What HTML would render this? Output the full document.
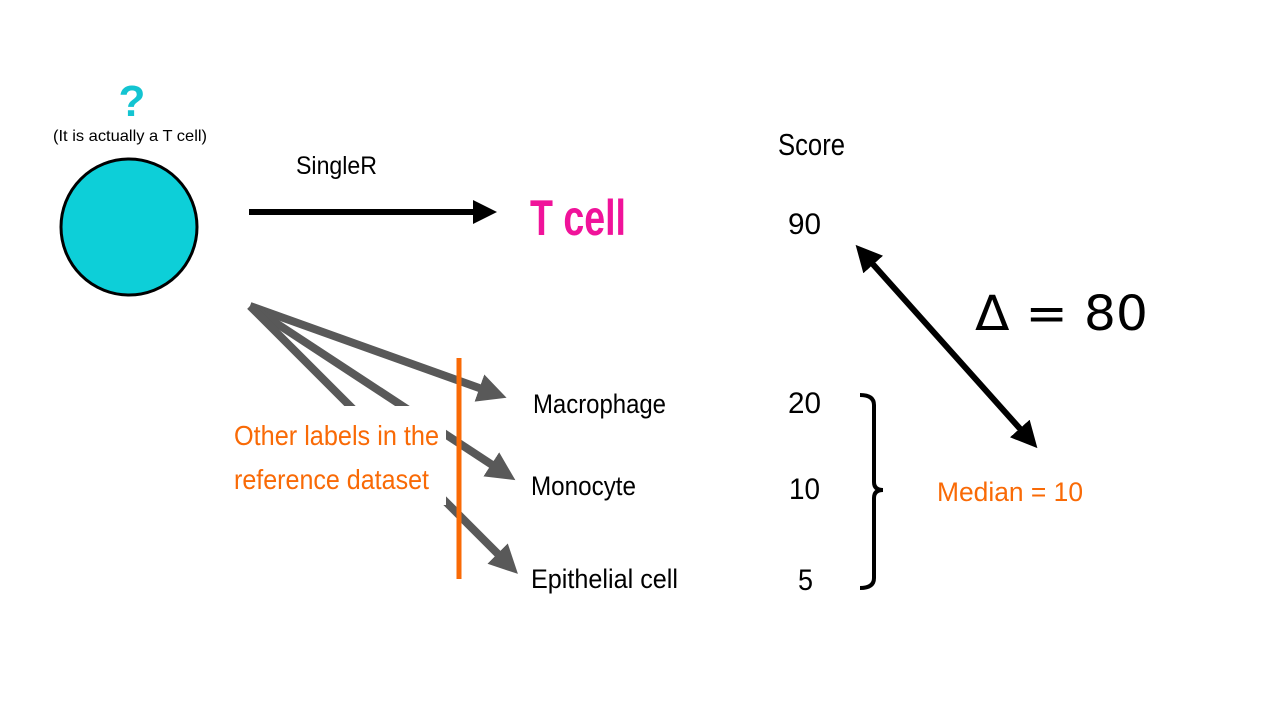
<!DOCTYPE html>
<html><head><meta charset="utf-8"><style>
html,body{margin:0;padding:0;background:#fff;width:1280px;height:720px;overflow:hidden}
svg text{font-family:"Liberation Sans Narrow","Liberation Sans",sans-serif}
</style></head><body>
<svg width="1280" height="720" viewBox="0 0 1280 720">
<defs>
<marker id="ab" markerWidth="4" markerHeight="4" refX="2.5" refY="2" orient="auto" markerUnits="strokeWidth"><path d="M0,0 L4,2 L0,4 z" fill="#000"/></marker>
<marker id="ag" markerWidth="3.6" markerHeight="3.6" refX="2.2" refY="1.8" orient="auto" markerUnits="strokeWidth"><path d="M0,0 L3.6,1.8 L0,3.6 z" fill="#595959"/></marker>
<marker id="ad" markerWidth="4.4" markerHeight="4.4" refX="2.8" refY="2.2" orient="auto-start-reverse" markerUnits="strokeWidth"><path d="M0,0 L4.4,2.2 L0,4.4 z" fill="#000"/></marker>
</defs>
<text x="132" y="116" font-size="44" font-weight="bold" fill="#13c4d1" text-anchor="middle">?</text>
<text x="130" y="141" font-size="16" fill="#000" text-anchor="middle" textLength="154" lengthAdjust="spacingAndGlyphs">(It is actually a T cell)</text>
<circle cx="129" cy="227" r="68" fill="#0dcfd8" stroke="#000" stroke-width="3"/>
<text x="296" y="174" font-size="25" fill="#000" textLength="81" lengthAdjust="spacingAndGlyphs">SingleR</text>
<line x1="249" y1="212" x2="488" y2="212" stroke="#000" stroke-width="6" marker-end="url(#ab)"/>
<text x="530" y="235" font-size="50" font-weight="bold" fill="#f0139a" textLength="96" lengthAdjust="spacingAndGlyphs">T cell</text>
<text x="778" y="155" font-size="31" fill="#000" textLength="67" lengthAdjust="spacingAndGlyphs">Score</text>
<text x="788" y="234" font-size="30" fill="#000" textLength="33" lengthAdjust="spacingAndGlyphs">90</text>
<line x1="862" y1="252" x2="1031" y2="441" stroke="#000" stroke-width="6" marker-start="url(#ad)" marker-end="url(#ad)"/>
<text x="975" y="330" font-size="48" fill="#000" style="font-family:'DejaVu Sans',sans-serif" textLength="173" lengthAdjust="spacingAndGlyphs">Δ = 80</text>
<g>
<line x1="250" y1="306" x2="496" y2="394" stroke="#595959" stroke-width="8" marker-end="url(#ag)"/>
<line x1="250" y1="306" x2="506" y2="474" stroke="#595959" stroke-width="8" marker-end="url(#ag)"/>
<line x1="250" y1="306" x2="510" y2="566" stroke="#595959" stroke-width="8" marker-end="url(#ag)"/>
</g>
<rect x="224" y="406" width="222" height="99" fill="#fff"/>
<line x1="459" y1="358" x2="459" y2="579" stroke="#f96a06" stroke-width="5"/>
<text x="234" y="445" font-size="28" fill="#f96a06" textLength="205" lengthAdjust="spacingAndGlyphs">Other labels in the</text>
<text x="234" y="489" font-size="28" fill="#f96a06" textLength="195" lengthAdjust="spacingAndGlyphs">reference dataset</text>
<text x="533" y="413" font-size="27" fill="#000" textLength="133" lengthAdjust="spacingAndGlyphs">Macrophage</text>
<text x="531" y="495" font-size="27" fill="#000" textLength="105" lengthAdjust="spacingAndGlyphs">Monocyte</text>
<text x="531" y="588" font-size="27" fill="#000" textLength="147" lengthAdjust="spacingAndGlyphs">Epithelial cell</text>
<text x="788" y="413" font-size="30" fill="#000" textLength="33" lengthAdjust="spacingAndGlyphs">20</text>
<text x="789" y="499" font-size="30" fill="#000" textLength="31" lengthAdjust="spacingAndGlyphs">10</text>
<text x="798" y="590" font-size="30" fill="#000" textLength="15" lengthAdjust="spacingAndGlyphs">5</text>
<path d="M860,395 Q874,395 874,405 L874,482 Q874,490 883,490 Q874,490 874,498 L874,578 Q874,588 860,588" fill="none" stroke="#000" stroke-width="4"/>
<text x="937" y="501" font-size="27" fill="#f96a06" textLength="146" lengthAdjust="spacingAndGlyphs">Median = 10</text>
</svg>
</body></html>
